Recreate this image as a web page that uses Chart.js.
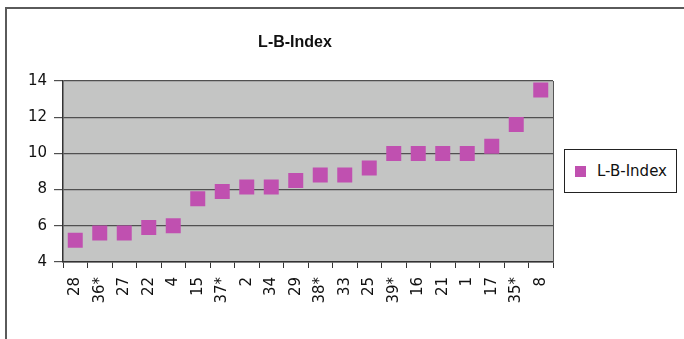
<!DOCTYPE html>
<html>
<head>
<meta charset="utf-8">
<script src="https://cdn.jsdelivr.net/npm/chart.js@4/dist/chart.umd.min.js"></script>
<style>
  html, body { margin: 0; padding: 0; background: #fff; }
  #wrap { position: relative; width: 684px; height: 339px; overflow: hidden; }
  #frame { position: absolute; left: 5px; top: 7px; width: 720px; height: 400px;
           border-left: 2px solid #5a5a5a; border-top: 2px solid #5a5a5a; box-sizing: border-box; }
  #c { position: absolute; left: 0; top: 0; }
  #title { position: absolute; left: 0; top: 33px; width: 590px; text-align: center;
           font: bold 16px "Liberation Sans", Arial, sans-serif; color: #111; }
  #legend { position: absolute; left: 564px; top: 149px; width: 113px; height: 44px;
            border: 1px solid #222; box-sizing: border-box; background: #fff;
            font: 15px "DejaVu Sans", sans-serif; color: #111; }
  #legend .sw { position: absolute; left: 10px; top: 16px; width: 11px; height: 11px; background: #C050B0; }
  #legend .tx { position: absolute; left: 32px; top: 12px; white-space: nowrap; }
</style>
</head>
<body>
<div id="wrap">
  <div id="frame"></div>
  <canvas id="c" width="684" height="339"></canvas>
  <div id="title">L-B-Index</div>
  <div id="legend"><div class="sw"></div><div class="tx">L-B-Index</div></div>
</div>
<script>
const categories = ["28","36*","27","22","4","15","37*","2","34","29","38*","33","25","39*","16","21","1","17","35*","8"];
const lbIndex = [5.2,5.6,5.6,5.9,6.0,7.5,7.9,8.15,8.15,8.5,8.8,8.8,9.2,10.0,10.0,10.0,10.0,10.4,11.6,13.5];
const seriesName = "L-B-Index";
const yMin = 4, yMax = 14, yStep = 2;

const plotBg = {
  id: 'plotBg',
  beforeDraw(chart) {
    const {ctx, chartArea: a} = chart;
    ctx.save();
    ctx.fillStyle = '#c4c5c4';
    ctx.fillRect(a.left, a.top, a.right - a.left, a.bottom - a.top);
    ctx.restore();
  },
  afterDraw(chart) {
    const {ctx, chartArea: a} = chart;
    ctx.save();
    ctx.strokeStyle = '#555';
    ctx.lineWidth = 1;
    ctx.beginPath();
    ctx.moveTo(a.right + 0.5, a.top);
    ctx.lineTo(a.right + 0.5, a.bottom);
    ctx.stroke();
    ctx.restore();
  }
};

new Chart(document.getElementById('c'), {
  type: 'line',
  data: {
    labels: categories,
    datasets: [{
      label: seriesName,
      data: lbIndex,
      showLine: false,
      pointStyle: 'rect',
      pointRadius: 10.6,
      pointHoverRadius: 10.6,
      pointBackgroundColor: '#C050B0',
      pointBorderWidth: 0,
      borderColor: '#C050B0'
    }]
  },
  options: {
    responsive: false,
    animation: false,
    devicePixelRatio: 1,
    layout: { padding: { top: 81, right: 131, left: 0, bottom: 0 } },
    plugins: {
      legend: { display: false },
      title: { display: false },
      tooltip: { enabled: false }
    },
    scales: {
      x: {
        type: 'category',
        offset: true,
        grid: { offset: true, drawOnChartArea: false, drawTicks: true, tickLength: 6, color: '#333', lineWidth: 1 },
        border: { display: true, color: '#333', width: 1.5 },
        ticks: {
          minRotation: 90, maxRotation: 90, autoSkip: false, padding: 9,
          color: '#111', font: { family: 'DejaVu Sans', size: 15 }
        },
        afterFit(s) { s.height = 77; }
      },
      y: {
        min: yMin, max: yMax,
        grid: { color: '#505050', lineWidth: 1.2, drawTicks: true, tickLength: 9 },
        border: { display: true, color: '#333', width: 1.5 },
        ticks: {
          stepSize: yStep, padding: 7,
          color: '#111', font: { family: 'DejaVu Sans', size: 15 }
        },
        afterFit(s) { s.width = 63; }
      }
    }
  },
  plugins: [plotBg]
});
</script>
</body>
</html>
